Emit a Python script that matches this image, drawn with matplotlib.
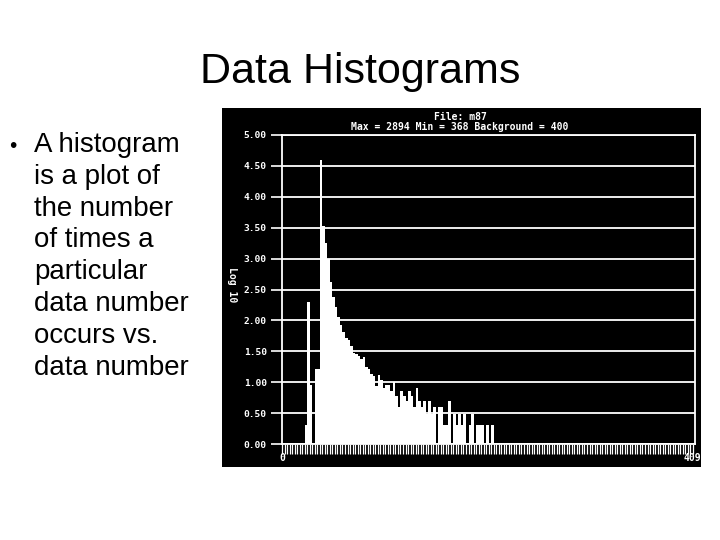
import matplotlib
matplotlib.use("Agg")
import matplotlib.pyplot as plt
import matplotlib.transforms as mtransforms
import numpy as np

# ---------------- data ----------------
title = "Data Histograms"
bullet_lines = ["A histogram", "is a plot of", "the number", "of times a",
                "particular", "data number", "occurs vs.", "data number"]
plot_title_1 = "File: m87"
plot_title_2 = "Max = 2894 Min = 368 Background = 400"
y_label = "Log 10"
y_ticks = [0.0, 0.5, 1.0, 1.5, 2.0, 2.5, 3.0, 3.5, 4.0, 4.5, 5.0]
x_tick_labels = ["0", "4095"]
x_tick_values = [0, 4095]
bin_width = 25
n_bins = 164
first_bin = 9
# log10(count) per bin, starting at bin index `first_bin`
log_counts = [
    0.30, 2.30, 0.95, 0.00, 1.22, 1.22, 4.60, 3.52, 3.25, 3.00,   # 9-18
    2.62, 2.38, 2.22, 2.05, 1.93, 1.82, 1.72, 1.69, 1.58, 1.48,   # 19-28
    1.45, 1.43, 1.37, 1.40, 1.24, 1.21, 1.14, 1.10, 0.94, 1.11,   # 29-38
    1.04, 0.90, 0.95, 0.95, 0.85, 1.00, 0.78, 0.60, 0.85, 0.78,   # 39-48
    0.70, 0.85, 0.78, 0.60, 0.90, 0.70, 0.60, 0.70, 0.48, 0.70,   # 49-58
    0.48, 0.60, 0.00, 0.60, 0.60, 0.30, 0.30, 0.70, 0.00, 0.48,   # 59-68
    0.30, 0.48, 0.30, 0.48, 0.00, 0.30, 0.48, 0.00, 0.30, 0.30,   # 69-78
    0.30, 0.00, 0.30, 0.00, 0.30,                                 # 79-83
]

# ---------------- figure ----------------
W, H = 720, 540
fig = plt.figure(figsize=(W / 100, H / 100), dpi=100)
fig.patch.set_facecolor("white")

def fx(px):
    return px / W

def fy(py):
    return 1 - py / H

sans = ["Liberation Sans", "DejaVu Sans"]
mono = ["DejaVu Sans Mono"]

fig.text(fx(360), fy(83), title, ha="center", va="baseline",
         fontsize=31, family=sans, color="black")

fig.text(fx(12.5), fy(151.7), "\u2022", ha="center", va="baseline",
         fontsize=15, family=sans, color="black")
for k, line in enumerate(bullet_lines):
    fig.text(fx(34.5), fy(151.7 + 31.9 * k), line, ha="left", va="baseline",
             fontsize=19.9, family=sans, color="black")

# black picture background
bg_l, bg_t, bg_r, bg_b = 222, 108, 701, 467
ax_bg = fig.add_axes([fx(bg_l), fy(bg_b), fx(bg_r - bg_l), (bg_b - bg_t) / H])
ax_bg.set_facecolor("black")
ax_bg.set_xticks([])
ax_bg.set_yticks([])
for s in ax_bg.spines.values():
    s.set_visible(False)

# histogram axes
p_l, p_t, p_r, p_b = 282, 135, 695, 444
ax = fig.add_axes([fx(p_l), fy(p_b), fx(p_r - p_l), (p_b - p_t) / H])
ax.set_facecolor("black")
ax.set_xlim(0, 4096)
ax.set_ylim(0, 5)

heights = np.zeros(n_bins)
heights[first_bin:first_bin + len(log_counts)] = log_counts
edges = np.arange(n_bins) * bin_width
ax.bar(edges, heights, width=bin_width, align="edge", color="white",
       linewidth=0, zorder=2)

for yv in y_ticks:
    ax.axhline(yv, color="white", lw=1.3, zorder=1)

ax.set_yticks(y_ticks)
ax.set_yticklabels([f"{v:.2f}" for v in y_ticks], family=mono,
                   fontweight="bold", fontsize=6.8, color="white")
ax.tick_params(axis="y", colors="white", length=8, width=1.2, pad=3)

ax.set_xticks(np.arange(0, 4096, bin_width))
ax.set_xticklabels([])
ax.tick_params(axis="x", colors="white", length=7, width=0.9, direction="out")

for name, s in ax.spines.items():
    s.set_color("white")
    s.set_linewidth(1.3)

# titles inside picture
fig.text(fx(460), fy(117), plot_title_1, ha="center", va="center",
         family=mono, fontweight="bold", fontsize=7, color="white")
fig.text(fx(460), fy(127), plot_title_2, ha="center", va="center",
         family=mono, fontweight="bold", fontsize=7, color="white")

# y label
fig.text(fx(232), fy(285), y_label, rotation=270, ha="center", va="center",
         family=mono, fontweight="bold", fontsize=7, color="white")

# x labels (clipped to picture)
trans = mtransforms.blended_transform_factory(ax.transData, fig.transFigure)
for xv, lab in zip(x_tick_values, x_tick_labels):
    ax_bg.text(xv, fy(458), lab, transform=trans, ha="center",
               va="center", family=mono, fontweight="bold", fontsize=7,
               color="white", clip_on=True)

fig.savefig("out.png", dpi=100, facecolor="white")
